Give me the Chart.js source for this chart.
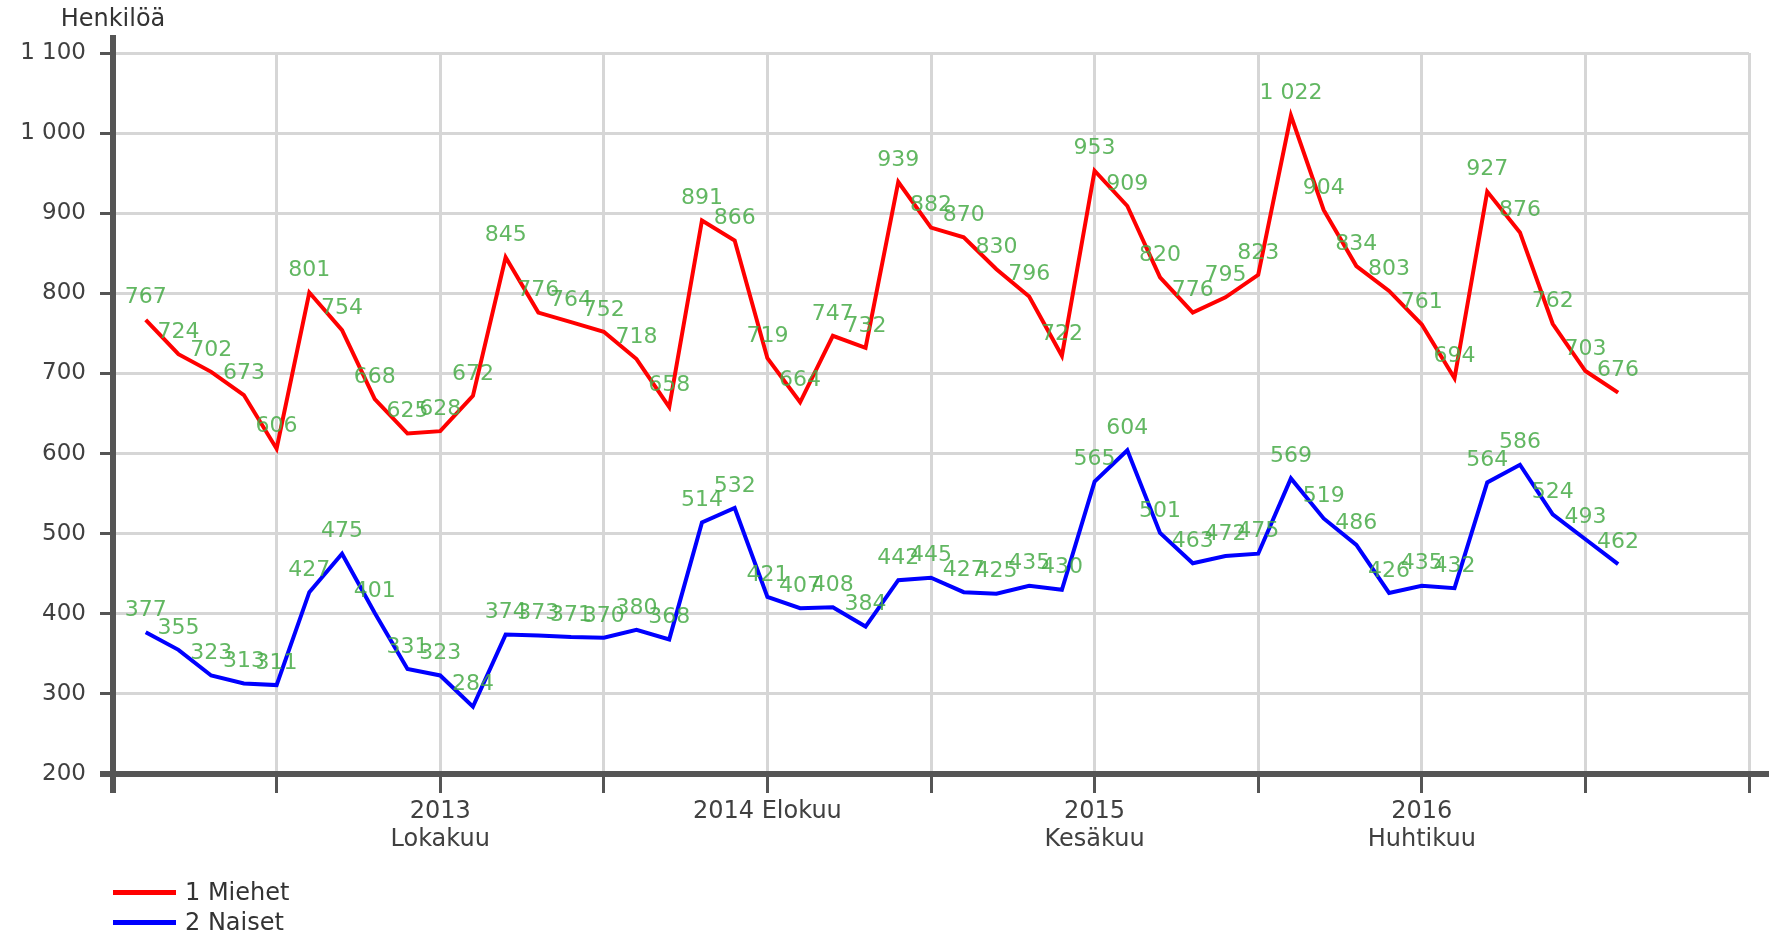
<!DOCTYPE html>
<html>
<head>
<meta charset="utf-8">
<script src="https://cdn.jsdelivr.net/npm/chart.js@4/dist/chart.umd.min.js"></script>
<style>
  html, body { margin: 0; padding: 0; background: #fff; }
  #wrap { position: relative; width: 1777px; height: 933px; }
  canvas { display: block; }
  .leg { position: absolute; left: 113px; font: 24px "DejaVu Sans", sans-serif; color: #333; display: flex; align-items: center; height: 28px; }
  .leg i { display: inline-block; width: 63px; height: 5px; margin-right: 9px; }
</style>
</head>
<body>
<div id="wrap">
  <canvas id="c" width="1777" height="933"></canvas>
  <div class="leg" style="top:878px;"><i style="background:#ff0000"></i><span id="l1"></span></div>
  <div class="leg" style="top:908px;"><i style="background:#0000ff"></i><span id="l2"></span></div>
</div>
<script>
// Months: January 2013 .. October 2016 (index 0..45)
const seriesNames = ['1 Miehet', '2 Naiset'];
const miehet = [767, 724, 702, 673, 606, 801, 754, 668, 625, 628, 672, 845, 776, 764, 752, 718, 658, 891, 866, 719, 664, 747, 732, 939, 882, 870, 830, 796, 722, 953, 909, 820, 776, 795, 823, 1022, 904, 834, 803, 761, 694, 927, 876, 762, 703, 676];
const naiset = [377, 355, 323, 313, 311, 427, 475, 401, 331, 323, 284, 374, 373, 371, 370, 380, 368, 514, 532, 421, 407, 408, 384, 442, 445, 427, 425, 435, 430, 565, 604, 501, 463, 472, 475, 569, 519, 486, 426, 435, 432, 564, 586, 524, 493, 462];
const xTickValues = [-1, 4, 9, 14, 19, 24, 29, 34, 39, 44, 49];
const xLabelPositions = [9, 19, 29, 39];
const xLabelTexts = [['2013', 'Lokakuu'], ['2014 Elokuu'], ['2015', 'Kesäkuu'], ['2016', 'Huhtikuu']];
const yTitle = 'Henkilöä';

document.getElementById('l1').textContent = seriesNames[0];
document.getElementById('l2').textContent = seriesNames[1];

const fmt = v => String(v).replace(/\B(?=(\d{3})+(?!\d))/g, ' ');
const toPts = arr => arr.map((v, i) => ({ x: i, y: v }));
const FONT = '"DejaVu Sans", sans-serif';

const decor = {
  id: 'decor',
  beforeDatasetsDraw(chart) {
    const ctx = chart.ctx, a = chart.chartArea;
    ctx.save();
    ctx.strokeStyle = '#555';
    ctx.lineWidth = 6;
    ctx.beginPath();
    ctx.moveTo(a.left, a.top - 18); ctx.lineTo(a.left, a.bottom + 19);
    ctx.moveTo(a.left - 13, a.bottom); ctx.lineTo(a.right + 20, a.bottom);
    ctx.stroke();
    ctx.fillStyle = '#333';
    ctx.font = '24px ' + FONT;
    ctx.textAlign = 'center';
    ctx.textBaseline = 'middle';
    ctx.fillText(yTitle, a.left, 20);
    ctx.restore();
  },
  afterDatasetsDraw(chart) {
    const ctx = chart.ctx;
    ctx.save();
    ctx.font = '22px ' + FONT;
    ctx.textAlign = 'center';
    ctx.textBaseline = 'middle';
    ctx.fillStyle = 'rgba(70,170,70,0.85)';
    chart.data.datasets.forEach((ds, di) => {
      chart.getDatasetMeta(di).data.forEach((p, i) => {
        ctx.fillText(fmt(ds.data[i].y), p.x, p.y - 22);
      });
    });
    ctx.restore();
  }
};

new Chart(document.getElementById('c'), {
  type: 'line',
  data: {
    datasets: [
      { label: seriesNames[0], data: toPts(miehet), borderColor: '#ff0000', borderWidth: 4, pointRadius: 0, tension: 0 },
      { label: seriesNames[1], data: toPts(naiset), borderColor: '#0000ff', borderWidth: 4, pointRadius: 0, tension: 0 }
    ]
  },
  options: {
    responsive: false,
    animation: false,
    layout: { padding: { top: 53, right: 28, left: 0, bottom: 0 } },
    plugins: { legend: { display: false }, tooltip: { enabled: false } },
    scales: {
      x: {
        type: 'linear', min: -1, max: 49,
        afterBuildTicks(s) { s.ticks = xTickValues.map(v => ({ value: v })); },
        afterFit(s) { s.height = 159; },
        border: { display: false },
        grid: { color: '#d6d6d6', lineWidth: 3, drawTicks: true, tickLength: 19, tickColor: '#555', tickWidth: 3 },
        ticks: {
          autoSkip: false, maxRotation: 0, padding: 5,
          font: { family: FONT, size: 24, lineHeight: 1.17 }, color: '#404040',
          callback(v) { const k = xLabelPositions.indexOf(v); return k >= 0 ? xLabelTexts[k] : ''; }
        }
      },
      y: {
        min: 200, max: 1100,
        afterFit(s) { s.width = 113; },
        border: { display: false },
        grid: { color: '#d6d6d6', lineWidth: 3, drawTicks: true, tickLength: 13, tickColor: '#555', tickWidth: 3 },
        ticks: { stepSize: 100, padding: 14, font: { family: FONT, size: 23 }, color: '#404040', callback: v => fmt(v) }
      }
    }
  },
  plugins: [decor]
});
</script>
</body>
</html>
